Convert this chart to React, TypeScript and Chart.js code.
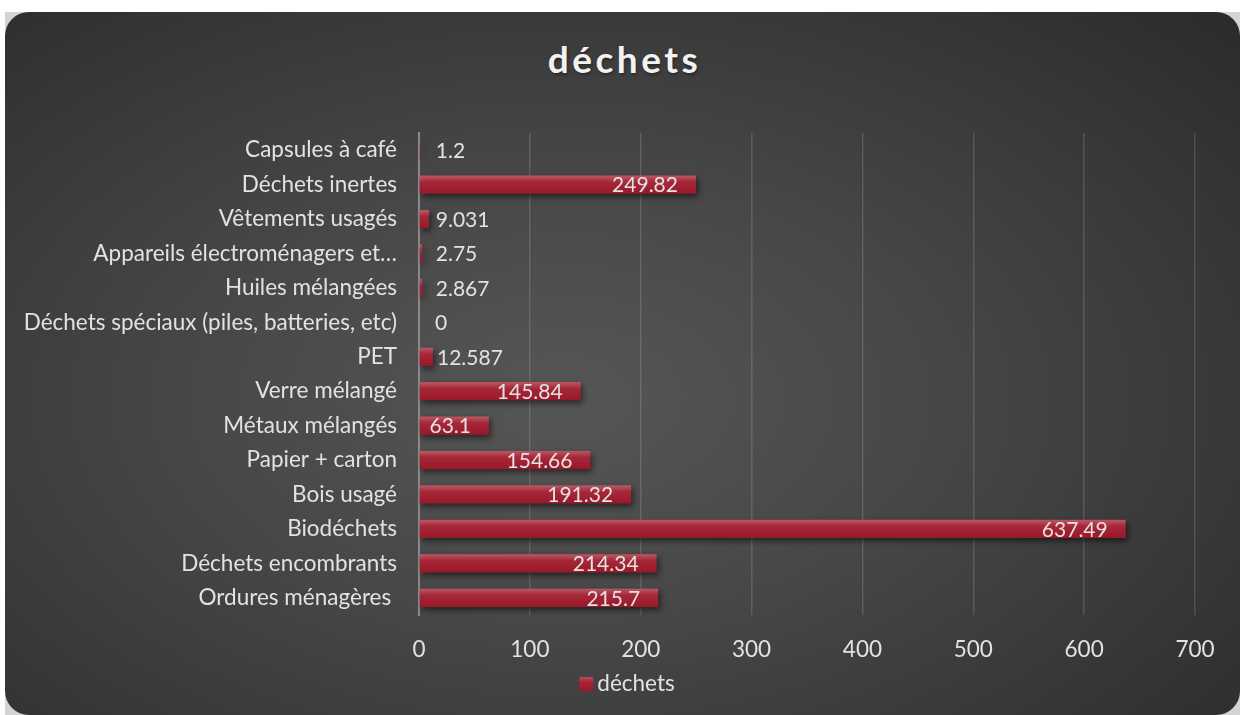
import React, { useEffect, useRef } from "react";
import { Chart, registerables } from "chart.js";

Chart.register(...registerables);

const categories = [
  "Capsules à café",
  "Déchets inertes",
  "Vêtements usagés",
  "Appareils électroménagers et…",
  "Huiles mélangées",
  "Déchets spéciaux (piles, batteries, etc)",
  "PET",
  "Verre mélangé",
  "Métaux mélangés",
  "Papier + carton",
  "Bois usagé",
  "Biodéchets",
  "Déchets encombrants",
  "Ordures ménagères ",
];
const values = [1.2, 249.82, 9.031, 2.75, 2.867, 0, 12.587, 145.84, 63.1, 154.66, 191.32, 637.49, 214.34, 215.7];
const valueLabels = ["1.2", "249.82", "9.031", "2.75", "2.867", "0", "12.587", "145.84", "63.1", "154.66", "191.32", "637.49", "214.34", "215.7"];
const seriesName = "déchets";
const xMin = 0;
const xMax = 700;
const xStep = 100;

const FONT = "Lato, 'Open Sans', sans-serif";
const BAR = "#a11a2c";
const TEXT = "#e2e2e2";

const barStylePlugin = {
  id: "barStyle",
  beforeDatasetsDraw(chart: any) {
    const ctx = chart.ctx;
    ctx.save();
    ctx.shadowColor = "rgba(0,0,0,0.55)";
    ctx.shadowBlur = 6;
    ctx.shadowOffsetX = 2;
    ctx.shadowOffsetY = 3;
  },
  afterDatasetsDraw(chart: any) {
    const ctx = chart.ctx;
    ctx.restore();
    const meta = chart.getDatasetMeta(0);
    ctx.save();
    meta.data.forEach((el: any, i: number) => {
      const { x, y, base, height } = el.getProps(["x", "y", "base", "height"], true);
      const top = y - height / 2;
      const w = x - base;
      if (w > 0.5) {
        const g = ctx.createLinearGradient(0, top, 0, top + height);
        g.addColorStop(0, "rgba(255,255,255,0.28)");
        g.addColorStop(0.35, "rgba(255,255,255,0.06)");
        g.addColorStop(1, "rgba(0,0,0,0.05)");
        ctx.fillStyle = g;
        ctx.fillRect(base, top, w, height);
      }
      ctx.font = `21px ${FONT}`;
      ctx.fillStyle = TEXT;
      ctx.textBaseline = "middle";
      const v = values[i];
      if (v < 40) {
        ctx.textAlign = "left";
        ctx.fillText(valueLabels[i], Math.max(x + 4, base + 16), y + 1);
      } else {
        ctx.textAlign = "right";
        ctx.fillText(valueLabels[i], x - 18, y + 1);
      }
    });
    // legend
    const cx = 622;
    const cy = 672;
    ctx.font = `22.5px ${FONT}`;
    const tw = ctx.measureText(seriesName).width;
    const total = 14 + 4 + tw;
    const left = cx - total / 2;
    ctx.fillStyle = BAR;
    ctx.fillRect(left, cy - 7, 14, 14);
    const g2 = ctx.createLinearGradient(0, cy - 7, 0, cy + 7);
    g2.addColorStop(0, "rgba(255,255,255,0.22)");
    g2.addColorStop(0.4, "rgba(255,255,255,0.04)");
    g2.addColorStop(1, "rgba(0,0,0,0.05)");
    ctx.fillStyle = g2;
    ctx.fillRect(left, cy - 7, 14, 14);
    ctx.fillStyle = TEXT;
    ctx.textAlign = "left";
    ctx.textBaseline = "middle";
    ctx.fillText(seriesName, left + 18, cy);
    ctx.restore();
  },
};

export default function App() {
  const ref = useRef<HTMLCanvasElement | null>(null);
  useEffect(() => {
    if (!ref.current) return;
    const chart = new Chart(ref.current, {
      type: "bar",
      data: {
        labels: categories,
        datasets: [
          {
            label: seriesName,
            data: values,
            backgroundColor: BAR,
            borderWidth: 0,
            barPercentage: 0.53,
            categoryPercentage: 1,
          },
        ],
      },
      options: {
        indexAxis: "y",
        animation: false,
        responsive: false,
        maintainAspectRatio: false,
        layout: { padding: { top: 121, right: 45, bottom: 52, left: 0 } },
        plugins: {
          legend: { display: false },
          tooltip: { enabled: false },
          title: { display: false },
        },
        scales: {
          x: {
            min: xMin,
            max: xMax,
            ticks: {
              stepSize: xStep,
              color: TEXT,
              font: { family: FONT, size: 22.5 },
              padding: 21,
            },
            grid: { color: "rgba(255,255,255,0.14)", lineWidth: 1.5, drawTicks: false },
            border: { display: false },
            afterFit: (s: any) => {
              s.height = 48;
            },
          },
          y: {
            ticks: {
              color: TEXT,
              font: { family: FONT, size: 22.5 },
              padding: 22,
              autoSkip: false,
            },
            grid: { display: false, drawTicks: false },
            border: { display: true, color: "#8a8a8a", width: 2 },
            afterFit: (s: any) => {
              s.width = 414;
            },
          },
        },
      },
      plugins: [barStylePlugin],
    });
    return () => chart.destroy();
  }, []);

  return (
    <div
      style={{
        position: "absolute",
        left: 5,
        top: 12,
        width: 1235,
        height: 703,
        background: "#d4d4d4",
      }}
    >
      <div
        style={{
          position: "absolute",
          inset: 0,
          borderRadius: 24,
          overflow: "hidden",
          background:
            "radial-gradient(ellipse 75% 80% at 45% 55%, #565656 0%, #474747 40%, #2b2b2b 100%)",
        }}
      >
        <div
          style={{
            position: "absolute",
            left: 4,
            right: 0,
            top: 24,
            textAlign: "center",
            fontFamily: FONT,
            fontWeight: 700,
            fontSize: 37,
            letterSpacing: 3.5,
            color: "#f2f2f2",
            textShadow: "1px 2px 3px rgba(0,0,0,0.35)",
          }}
        >
          déchets
        </div>
        <canvas ref={ref} width={1235} height={703} style={{ position: "absolute", left: 0, top: 0 }} />
      </div>
    </div>
  );
}
